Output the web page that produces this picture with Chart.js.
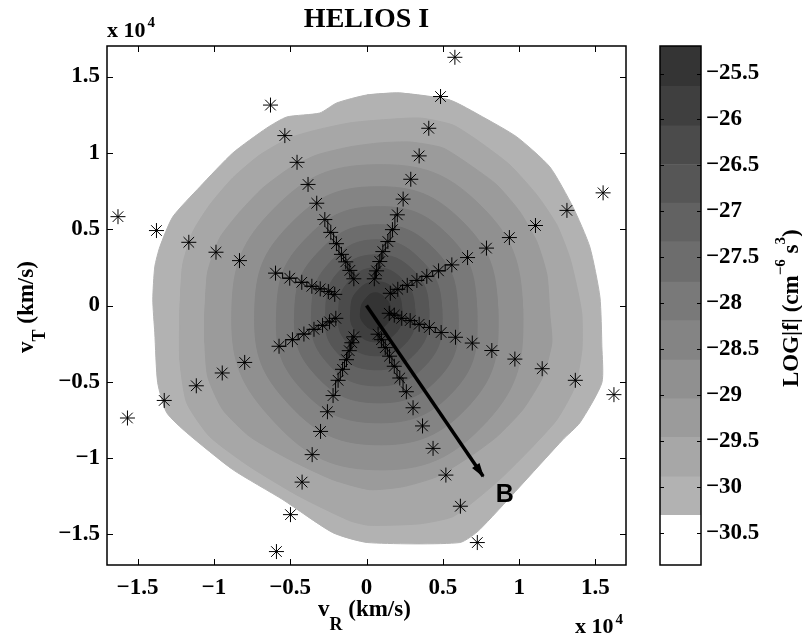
<!DOCTYPE html>
<html><head><meta charset="utf-8">
<script src="https://cdn.jsdelivr.net/npm/chart.js@4/dist/chart.umd.min.js"></script>
<style>
html,body{margin:0;padding:0;background:#fff;}
#wrap{position:relative;width:802px;height:637px;overflow:hidden;}
#main{position:absolute;left:0;top:0;}
#cbar{position:absolute;left:640px;top:0;}
</style></head><body>
<div id="wrap"><canvas id="main" width="802" height="637"></canvas><canvas id="cbar" width="162" height="637"></canvas></div>
<script>
// ---------- data (units of 10^4 km/s) ----------
const xTickValues = [-1.5,-1,-0.5,0,0.5,1,1.5];
const yTickValues = [-1.5,-1,-0.5,0,0.5,1,1.5];
const cbarTickValues = [-25.5,-26,-26.5,-27,-27.5,-28,-28.5,-29,-29.5,-30,-30.5];
const levelEdges = [-30.85,-30.31,-29.89,-29.46,-29.04,-28.62,-28.19,-27.77,-27.33,-26.91,-26.49,-26.07,-25.64,-25.2];

const contour1 = [[0.218,1.392],[0.546,1.346],[0.762,1.235],[0.985,1.104],[1.201,0.908],[1.352,0.646],[1.463,0.384],[1.529,0.057],[1.542,-0.270],[1.542,-0.506],[1.398,-0.768],[1.286,-0.879],[0.742,-1.468],[0.611,-1.553],[0.009,-1.553],[-0.221,-1.488],[-0.548,-1.272],[-0.876,-1.075],[-1.178,-0.833],[-1.309,-0.702],[-1.368,-0.506],[-1.387,-0.179],[-1.400,0.037],[-1.387,0.253],[-1.354,0.384],[-1.269,0.581],[-1.092,0.777],[-0.876,0.999],[-0.653,1.163],[-0.522,1.235],[-0.306,1.261],[-0.195,1.327],[0.002,1.379]];
const contour2 = [[-1.223,-0.061],[-1.204,0.266],[-1.138,0.482],[-1.027,0.659],[-0.876,0.836],[-0.699,0.986],[-0.502,1.098],[-0.326,1.150],[-0.109,1.196],[0.087,1.215],[0.349,1.228],[0.566,1.182],[0.742,1.071],[0.939,0.921],[1.116,0.724],[1.247,0.528],[1.332,0.312],[1.385,0.090],[1.411,-0.061],[1.411,-0.290],[1.365,-0.532],[1.247,-0.748],[1.070,-0.944],[0.893,-1.121],[0.742,-1.252],[0.566,-1.383],[0.349,-1.430],[0.022,-1.440],[-0.109,-1.410],[-0.437,-1.252],[-0.764,-1.056],[-1.027,-0.859],[-1.178,-0.637],[-1.223,-0.356]];
const contour3 = [[-1.059,-0.061],[-1.040,0.221],[-0.961,0.443],[-0.830,0.613],[-0.679,0.770],[-0.502,0.901],[-0.326,0.986],[-0.109,1.039],[0.087,1.065],[0.284,1.071],[0.500,1.032],[0.677,0.921],[0.854,0.790],[1.005,0.613],[1.116,0.417],[1.182,0.201],[1.201,-0.061],[1.214,-0.244],[1.155,-0.467],[1.024,-0.682],[0.854,-0.859],[0.677,-0.990],[0.461,-1.121],[0.238,-1.187],[0.022,-1.206],[-0.221,-1.141],[-0.502,-1.010],[-0.764,-0.859],[-0.942,-0.682],[-1.040,-0.467],[-1.059,-0.244]];
const contour4 = [[1.023,-0.028],[0.742,0.660],[0.054,0.922],[-0.607,0.633],[-0.882,-0.028],[-0.640,-0.722],[0.054,-1.076],[0.787,-0.761]];
const contour5 = [[0.860,-0.028],[0.630,0.548],[0.054,0.778],[-0.503,0.529],[-0.732,-0.028],[-0.535,-0.617],[0.054,-0.912],[0.676,-0.650]];
const contour6 = [[0.722,-0.028],[0.539,0.457],[0.054,0.647],[-0.404,0.430],[-0.588,-0.028],[-0.444,-0.526],[0.054,-0.768],[0.578,-0.552]];
const contour7 = [[0.598,-0.028],[0.447,0.365],[0.054,0.529],[-0.319,0.345],[-0.470,-0.028],[-0.352,-0.434],[0.054,-0.637],[0.486,-0.460]];
const contour8 = [[0.493,-0.028],[0.368,0.286],[0.054,0.430],[-0.247,0.273],[-0.359,-0.028],[-0.273,-0.355],[0.054,-0.526],[0.401,-0.375]];
const contour9 = [[0.408,-0.028],[0.309,0.227],[0.054,0.332],[-0.188,0.214],[-0.267,-0.028],[-0.208,-0.290],[0.054,-0.421],[0.329,-0.303]];
const contour10 = [[0.316,-0.028],[0.244,0.162],[0.054,0.247],[-0.123,0.149],[-0.182,-0.028],[-0.142,-0.224],[0.054,-0.329],[0.264,-0.238]];
const contour11 = [[0.231,-0.028],[0.185,0.103],[0.054,0.155],[-0.064,0.090],[-0.103,-0.028],[-0.077,-0.159],[0.054,-0.238],[0.198,-0.172]];
const contour12 = [[0.159,-0.028],[0.126,0.044],[0.054,0.083],[-0.011,0.037],[-0.038,-0.028],[-0.025,-0.107],[0.054,-0.159],[0.139,-0.113]];

const armA = [[-0.629,1.313],[-0.535,1.113],[-0.455,0.938],[-0.383,0.793],[-0.326,0.670],[-0.273,0.563],[-0.234,0.479],[-0.197,0.405],[-0.164,0.335],[-0.136,0.286],[-0.109,0.230],[-0.083,0.175]];
const armB = [[0.579,1.626],[0.485,1.369],[0.408,1.161],[0.345,0.980],[0.290,0.827],[0.240,0.697],[0.202,0.594],[0.170,0.497],[0.140,0.419],[0.107,0.353],[0.087,0.288],[0.066,0.227],[0.051,0.175]];
const armC = [[-1.628,0.582],[-1.376,0.491],[-1.164,0.414],[-0.986,0.349],[-0.832,0.294],[-0.596,0.212],[-0.503,0.179],[-0.424,0.152],[-0.358,0.126],[-0.303,0.109],[-0.250,0.091],[-0.208,0.073]];
const armD = [[1.550,0.738],[1.313,0.623],[1.107,0.524],[0.936,0.445],[0.786,0.376],[0.662,0.314],[0.559,0.266],[0.472,0.227],[0.395,0.191],[0.330,0.164],[0.267,0.132],[0.205,0.106],[0.156,0.080]];
const armE = [[1.621,-0.584],[1.368,-0.490],[1.151,-0.414],[0.972,-0.351],[0.821,-0.295],[0.693,-0.246],[0.583,-0.208],[0.489,-0.177],[0.412,-0.144],[0.345,-0.123],[0.286,-0.099],[0.231,-0.084],[0.182,-0.063],[0.149,-0.051]];
const armF = [[0.726,-1.553],[0.615,-1.315],[0.520,-1.111],[0.436,-0.936],[0.367,-0.789],[0.305,-0.670],[0.261,-0.565],[0.218,-0.475],[0.182,-0.398],[0.151,-0.332],[0.123,-0.276],[0.098,-0.224],[0.076,-0.188]];
const armG = [[-0.590,-1.612],[-0.498,-1.370],[-0.422,-1.157],[-0.356,-0.977],[-0.301,-0.825],[-0.256,-0.696],[-0.219,-0.590],[-0.186,-0.490],[-0.157,-0.418],[-0.131,-0.355],[-0.113,-0.296],[-0.096,-0.244],[-0.083,-0.205]];
const armH = [[-1.566,-0.737],[-1.325,-0.622],[-1.115,-0.526],[-0.945,-0.442],[-0.798,-0.373],[-0.573,-0.267],[-0.485,-0.224],[-0.410,-0.187],[-0.344,-0.156],[-0.288,-0.130],[-0.242,-0.107],[-0.201,-0.084]];

const arrowVector = [[0,0],[0.764,-1.119]];
const arrowLabel = 'B';
const arrowLabelAt = [0.906,-1.243];

// ---------- styling ----------
const bandGray = [255,178,167,155,144,132,121,109,98,86,75,63,52];
const gray = g => 'rgb(' + g + ',' + g + ',' + g + ')';
const SERIF = '"Liberation Serif", "Times New Roman", serif';
const fmt = v => (v < 0 ? '\u2212' + String(-v) : String(v));
const pts = arr => arr.map(p => ({x: p[0], y: p[1]}));

const contours = [contour1,contour2,contour3,contour4,contour5,contour6,contour7,contour8,contour9,contour10,contour11,contour12];
const arms = [armA,armB,armC,armD,armE,armF,armG,armH];

const contourSets = contours.map((c, i) => {
  const ring = [c[c.length - 1]].concat(c, [c[0], c[1]]);
  const col = gray(bandGray[i + 1]);
  return {
    label: 'level ' + (i + 1), data: pts(ring), contourFill: col,
    borderColor: col, backgroundColor: col, borderWidth: 1, fill: false,
    pointRadius: 0, tension: i < 3 ? 0.2 : 0.45, order: 20 - i
  };
});
const stairSets = arms.map((a, i) => ({
  label: 'arm ' + i, data: pts(a.slice(-7)), stepped: 'middle', borderColor: '#000',
  borderWidth: 1, pointRadius: 0, fill: false, order: 1
}));
const markerSet = {
  label: 'bins', data: pts(arms.flat()), showLine: false, pointStyle: 'star',
  pointRadius: 7.5, pointBorderColor: '#000', pointBackgroundColor: '#000',
  pointBorderWidth: 1, order: 0
};
const arrowSet = {
  label: 'B', data: pts(arrowVector), borderColor: '#000', borderWidth: 3.5,
  pointRadius: 0, fill: false, order: 1, borderCapStyle: 'butt'
};

function rich(ctx, parts, x, y) {
  let cx = x;
  ctx.textAlign = 'left'; ctx.textBaseline = 'alphabetic';
  for (const p of parts) {
    ctx.font = 'bold ' + p.size + 'px ' + SERIF;
    ctx.fillText(p.t, cx, y + (p.dy || 0));
    cx += ctx.measureText(p.t).width + (p.gap || 0);
  }
}

const contourFill = {
  id: 'contourFill',
  beforeDatasetDraw(chart, args) {
    const ds = chart.data.datasets[args.index];
    if (!ds.contourFill) return;
    const line = args.meta.dataset;
    if (!line) return;
    const ctx = chart.ctx;
    if (line.updateControlPoints) line.updateControlPoints(chart.chartArea, 'x');
    ctx.save();
    ctx.beginPath();
    line.path(ctx);
    ctx.closePath();
    ctx.fillStyle = ds.contourFill;
    ctx.fill();
    ctx.restore();
  }
};

const mainDeco = {
  id: 'mainDeco',
  afterDatasetsDraw(chart) {
    const {ctx, scales: {x, y}} = chart;
    const x0 = x.getPixelForValue(arrowVector[0][0]), y0 = y.getPixelForValue(arrowVector[0][1]);
    const x1 = x.getPixelForValue(arrowVector[1][0]), y1 = y.getPixelForValue(arrowVector[1][1]);
    const ang = Math.atan2(y1 - y0, x1 - x0), c = Math.cos(ang), s = Math.sin(ang);
    const L = 13, W = 4.5;
    ctx.save();
    ctx.fillStyle = '#000';
    ctx.beginPath();
    ctx.moveTo(x1 + 1.5 * c, y1 + 1.5 * s);
    ctx.lineTo(x1 - L * c + W * s, y1 - L * s - W * c);
    ctx.lineTo(x1 - L * c - W * s, y1 - L * s + W * c);
    ctx.closePath();
    ctx.fill();
    ctx.font = 'bold 25px "Liberation Sans", Arial, sans-serif';
    ctx.textAlign = 'center'; ctx.textBaseline = 'middle';
    ctx.fillText(arrowLabel, x.getPixelForValue(arrowLabelAt[0]), y.getPixelForValue(arrowLabelAt[1]));
    ctx.restore();
  },
  afterDraw(chart) {
    const {ctx, chartArea: a, scales: {x, y}} = chart;
    ctx.save();
    ctx.strokeStyle = '#000';
    ctx.lineWidth = 1.5;
    ctx.strokeRect(a.left, a.top, a.right - a.left, a.bottom - a.top);
    ctx.lineWidth = 1;
    ctx.beginPath();
    for (const v of xTickValues) {
      const px = Math.round(x.getPixelForValue(v)) + 0.5;
      ctx.moveTo(px, a.bottom); ctx.lineTo(px, a.bottom - 6);
      ctx.moveTo(px, a.top); ctx.lineTo(px, a.top + 6);
    }
    for (const v of yTickValues) {
      const py = Math.round(y.getPixelForValue(v)) + 0.5;
      ctx.moveTo(a.left, py); ctx.lineTo(a.left + 6, py);
      ctx.moveTo(a.right, py); ctx.lineTo(a.right - 6, py);
    }
    ctx.stroke();
    ctx.fillStyle = '#000';
    // title
    ctx.font = 'bold 28px ' + SERIF;
    ctx.textAlign = 'center'; ctx.textBaseline = 'alphabetic';
    ctx.fillText('HELIOS I', (a.left + a.right) / 2, 27);
    // exponent labels
    rich(ctx, [{t: 'x 10', size: 22, gap: 2}, {t: '4', size: 15, dy: -10}], a.left, 37);
    rich(ctx, [{t: 'x 10', size: 22, gap: 2}, {t: '4', size: 15, dy: -9}], 575, 633);
    // axis titles
    rich(ctx, [{t: 'v', size: 23}, {t: 'R', size: 18, dy: 14}, {t: ' (km/s)', size: 23}], 318, 616);
    ctx.translate(32.5, 353);
    ctx.rotate(-Math.PI / 2);
    rich(ctx, [{t: 'v', size: 23}, {t: 'T', size: 18, dy: 12}, {t: ' (km/s)', size: 23}], 0, 0);
    ctx.restore();
  }
};

new Chart(document.getElementById('main'), {
  type: 'line',
  data: {datasets: [markerSet, arrowSet].concat(stairSets, contourSets)},
  options: {
    responsive: false, animation: false, devicePixelRatio: 1, events: [],
    layout: {padding: {left: 0, top: 46, right: 176, bottom: 0}},
    plugins: {legend: {display: false}, tooltip: {enabled: false}, title: {display: false}},
    scales: {
      x: {
        type: 'linear', position: 'bottom', min: -1.7, max: 1.7,
        afterBuildTicks: s => { s.ticks = xTickValues.map(v => ({value: v})); },
        afterFit: s => { s.height = 72; },
        grid: {display: false, drawTicks: false}, border: {display: false},
        ticks: {callback: v => fmt(v), font: {family: SERIF, weight: 'bold', size: 23}, color: '#000', padding: 9, maxRotation: 0, autoSkip: false}
      },
      y: {
        type: 'linear', position: 'left', min: -1.7, max: 1.7,
        afterBuildTicks: s => { s.ticks = yTickValues.map(v => ({value: v})); },
        afterFit: s => { s.width = 107; },
        grid: {display: false, drawTicks: false}, border: {display: false},
        ticks: {callback: v => fmt(v), font: {family: SERIF, weight: 'bold', size: 23}, color: '#000', padding: 7, autoSkip: false}
      }
    }
  },
  plugins: [contourFill, mainDeco]
});

// ---------- colour bar ----------
const cbarDeco = {
  id: 'cbarDeco',
  afterDraw(chart) {
    const {ctx, chartArea: a, scales: {y}} = chart;
    ctx.save();
    ctx.strokeStyle = '#000';
    ctx.lineWidth = 1;
    ctx.beginPath();
    for (const v of cbarTickValues) {
      const py = Math.round(y.getPixelForValue(v)) + 0.5;
      ctx.moveTo(a.left, py); ctx.lineTo(a.left + 4, py);
      ctx.moveTo(a.right, py); ctx.lineTo(a.right - 4, py);
    }
    ctx.stroke();
    ctx.lineWidth = 1.5;
    ctx.strokeRect(a.left, a.top, a.right - a.left, a.bottom - a.top);
    ctx.fillStyle = '#000';
    ctx.translate(158, 387);
    ctx.rotate(-Math.PI / 2);
    rich(ctx, [{t: 'LOG|f| (cm', size: 23}, {t: '\u22126', size: 15, dy: -13}, {t: ' s', size: 23}, {t: '3', size: 15, dy: -13}, {t: ')', size: 23}], 0, 0);
    ctx.restore();
  }
};

new Chart(document.getElementById('cbar'), {
  type: 'bar',
  data: {
    labels: [''],
    datasets: levelEdges.slice(0, -1).map((lo, i) => ({
      label: 'band ' + i, data: [[lo, levelEdges[i + 1]]], backgroundColor: gray(bandGray[i]),
      borderWidth: 0, grouped: false, barPercentage: 1, categoryPercentage: 1
    }))
  },
  options: {
    responsive: false, animation: false, devicePixelRatio: 1, events: [],
    layout: {padding: {left: 20, top: 46, bottom: 72, right: 0}},
    plugins: {legend: {display: false}, tooltip: {enabled: false}},
    scales: {
      x: {display: false, stacked: true},
      y: {
        position: 'right', min: -30.85, max: -25.2, stacked: false,
        afterBuildTicks: s => { s.ticks = cbarTickValues.map(v => ({value: v})); },
        afterFit: s => { s.width = 101; },
        grid: {display: false, drawTicks: false}, border: {display: false},
        ticks: {callback: v => fmt(v), font: {family: SERIF, weight: 'bold', size: 23}, color: '#000', padding: 5, autoSkip: false}
      }
    }
  },
  plugins: [cbarDeco]
});
</script>
</body></html>
